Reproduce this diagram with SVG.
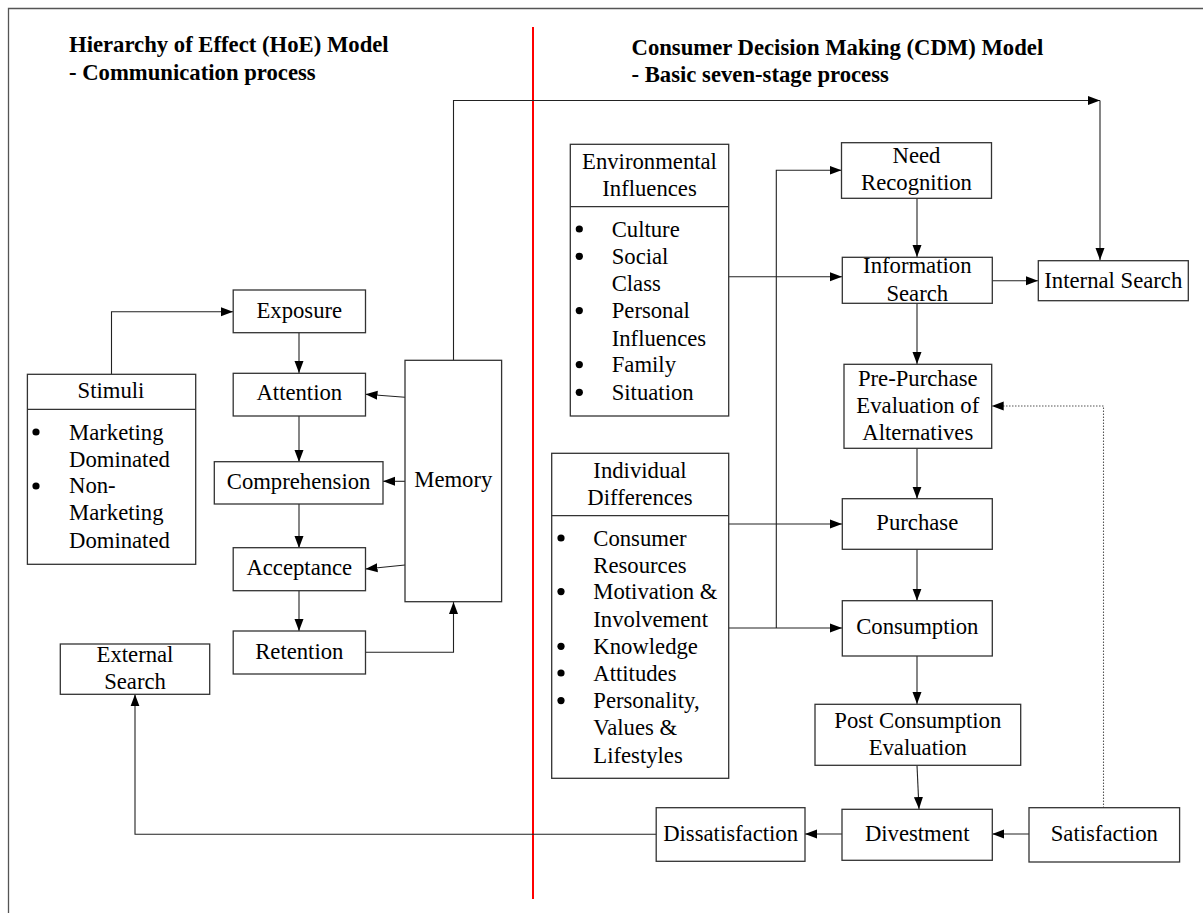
<svg xmlns="http://www.w3.org/2000/svg" width="1203" height="913" viewBox="0 0 1203 913">
  <style>
    .box { fill: #ffffff; stroke: #333333; stroke-width: 1.3; }
    .div { stroke: #333333; stroke-width: 1.3; fill: none; }
    .t { font-family: "Liberation Serif", "Times New Roman", serif; font-size: 22.7px; fill: #000000; }
    .c { text-anchor: middle; }
    .title { font-family: "Liberation Serif", "Times New Roman", serif; font-size: 22.7px; font-weight: bold; fill: #000000; }
    .link { fill: none; stroke: #222222; stroke-width: 1.1; marker-end: url(#arrow); }
    .plain { fill: none; stroke: #222222; stroke-width: 1.1; }
    .dotted { fill: none; stroke: #555555; stroke-width: 1.1; stroke-dasharray: 1.5 1.5; marker-end: url(#arrow); }
  </style>
  <defs>
    <marker id="arrow" markerUnits="userSpaceOnUse" markerWidth="13" markerHeight="10" refX="12" refY="5" orient="auto">
      <path d="M0,0.5 L12,5 L0,9.5 z" fill="#000000"/>
    </marker>
    <circle id="bullet" r="3.6" fill="#000000"/>
  </defs>

  <rect width="1203" height="913" fill="#ffffff"/>

  <!-- page frame -->
  <path d="M8.5,913 V8.5 H1203" fill="none" stroke="#555555" stroke-width="1.3"/>

  <!-- divider between the two models -->
  <line x1="533" y1="27" x2="533" y2="899" stroke="#ff0000" stroke-width="2"/>

  <!-- headings -->
  <g id="heading-hoe">
    <text class="title" x="69" y="52">Hierarchy of Effect (HoE) Model</text>
    <text class="title" x="69" y="80">- Communication process</text>
  </g>
  <g id="heading-cdm">
    <text class="title" x="631.5" y="54.5">Consumer Decision Making (CDM) Model</text>
    <text class="title" x="631.5" y="81.5">- Basic seven-stage process</text>
  </g>

  <!-- connectors -->
  <g id="connectors">
    <path class="link" d="M111.5,374 V311.7 H233"/>
    <path class="link" d="M299,333 V373"/>
    <path class="link" d="M299,416 V462"/>
    <path class="link" d="M299,504 V548"/>
    <path class="link" d="M299,591 V631"/>
    <path class="link" d="M365.5,652.3 H453.5 V602"/>
    <path class="link" d="M405,397.3 L365.5,394.3"/>
    <path class="link" d="M405,481.3 H383"/>
    <path class="link" d="M405,565 L365.5,569"/>
    <path class="link" d="M453.5,360 V100.5 H1100"/>
    <path class="link" d="M1100,100.5 V260"/>
    <path class="link" d="M728.7,276.7 H842"/>
    <path class="link" d="M917,198.3 V257"/>
    <path class="link" d="M992,280.7 H1038"/>
    <path class="link" d="M917,303.3 V364"/>
    <path class="link" d="M728.7,524 H842"/>
    <path class="link" d="M728.7,628 H842"/>
    <path class="link" d="M776.3,628 V170.3 H841.5"/>
    <path class="link" d="M917,448.3 V498.7"/>
    <path class="link" d="M917,549.3 V600.7"/>
    <path class="link" d="M917,656 V704"/>
    <path class="link" d="M917,765.3 L919,809"/>
    <path class="link" d="M1029,834 H992.3"/>
    <path class="link" d="M842,834 H805"/>
    <path class="link" d="M656,834.3 H135 V694.3"/>
    <path class="dotted" d="M1103.5,808 V406 H991.7"/>
  </g>

  <!-- HoE model -->
  <g id="stimuli">
    <rect class="box" x="27.4" y="374.3" width="168.3" height="190"/>
    <line class="div" x1="27.4" y1="409.3" x2="195.7" y2="409.3"/>
    <text class="t c" x="111" y="398.3">Stimuli</text>
    <use href="#bullet" x="36" y="432"/>
    <text class="t" x="69" y="440">Marketing</text>
    <text class="t" x="69" y="466.7">Dominated</text>
    <use href="#bullet" x="36" y="486"/>
    <text class="t" x="69" y="493.3">Non-</text>
    <text class="t" x="69" y="520">Marketing</text>
    <text class="t" x="69" y="547.7">Dominated</text>
  </g>
  <g id="exposure">
    <rect class="box" x="233.2" y="290" width="132.3" height="42.7"/>
    <text class="t c" x="299.3" y="317.5">Exposure</text>
  </g>
  <g id="attention">
    <rect class="box" x="233.2" y="373.3" width="132.3" height="42.7"/>
    <text class="t c" x="299.3" y="400">Attention</text>
  </g>
  <g id="comprehension">
    <rect class="box" x="214.3" y="461.7" width="168.7" height="42.3"/>
    <text class="t c" x="298.6" y="489.3">Comprehension</text>
  </g>
  <g id="acceptance">
    <rect class="box" x="233.2" y="547.7" width="132.3" height="43"/>
    <text class="t c" x="299.3" y="575">Acceptance</text>
  </g>
  <g id="retention">
    <rect class="box" x="233.2" y="631" width="132.3" height="43"/>
    <text class="t c" x="299.3" y="659.3">Retention</text>
  </g>
  <g id="memory">
    <rect class="box" x="405" y="360.3" width="96.6" height="241.4"/>
    <text class="t c" x="453.3" y="487.3">Memory</text>
  </g>
  <g id="external-search">
    <rect class="box" x="60.3" y="644" width="149.4" height="50.3"/>
    <text class="t c" x="135" y="661.7">External</text>
    <text class="t c" x="135" y="689.3">Search</text>
  </g>

  <!-- CDM model -->
  <g id="environmental-influences">
    <rect class="box" x="570.3" y="144.3" width="158.4" height="271.7"/>
    <line class="div" x1="570.3" y1="206.7" x2="728.7" y2="206.7"/>
    <text class="t c" x="649.5" y="169">Environmental</text>
    <text class="t c" x="649.5" y="195.7">Influences</text>
    <use href="#bullet" x="579.3" y="229"/>
    <text class="t" x="611.7" y="236.7">Culture</text>
    <use href="#bullet" x="579.3" y="256.3"/>
    <text class="t" x="611.7" y="264">Social</text>
    <text class="t" x="611.7" y="290.7">Class</text>
    <use href="#bullet" x="579.3" y="310.6"/>
    <text class="t" x="611.7" y="318.3">Personal</text>
    <text class="t" x="611.7" y="345.7">Influences</text>
    <use href="#bullet" x="579.3" y="364.6"/>
    <text class="t" x="611.7" y="372.3">Family</text>
    <use href="#bullet" x="579.3" y="392.3"/>
    <text class="t" x="611.7" y="400">Situation</text>
  </g>
  <g id="individual-differences">
    <rect class="box" x="551.7" y="453.3" width="177" height="325"/>
    <line class="div" x1="551.7" y1="515.7" x2="728.7" y2="515.7"/>
    <text class="t c" x="640" y="478.3">Individual</text>
    <text class="t c" x="640" y="505">Differences</text>
    <use href="#bullet" x="561" y="538"/>
    <text class="t" x="593.3" y="545.7">Consumer</text>
    <text class="t" x="593.3" y="572.7">Resources</text>
    <use href="#bullet" x="561" y="591.6"/>
    <text class="t" x="593.3" y="599.3">Motivation &amp;</text>
    <text class="t" x="593.3" y="627.3">Involvement</text>
    <use href="#bullet" x="561" y="646.3"/>
    <text class="t" x="593.3" y="654">Knowledge</text>
    <use href="#bullet" x="561" y="673"/>
    <text class="t" x="593.3" y="680.7">Attitudes</text>
    <use href="#bullet" x="561" y="700.6"/>
    <text class="t" x="593.3" y="708.3">Personality,</text>
    <text class="t" x="593.3" y="735">Values &amp;</text>
    <text class="t" x="593.3" y="762.7">Lifestyles</text>
  </g>
  <g id="need-recognition">
    <rect class="box" x="841.5" y="142.7" width="150" height="55.6"/>
    <text class="t c" x="916.5" y="163.3">Need</text>
    <text class="t c" x="916.5" y="190">Recognition</text>
  </g>
  <g id="information-search">
    <rect class="box" x="842.3" y="257.3" width="150" height="46"/>
    <text class="t c" x="917.3" y="273.3">Information</text>
    <text class="t c" x="917.3" y="300.7">Search</text>
  </g>
  <g id="internal-search">
    <rect class="box" x="1038.3" y="260.7" width="150" height="40"/>
    <text class="t c" x="1113.3" y="288.3">Internal Search</text>
  </g>
  <g id="pre-purchase-evaluation">
    <rect class="box" x="844" y="364.3" width="147.7" height="84"/>
    <text class="t c" x="917.8" y="386">Pre-Purchase</text>
    <text class="t c" x="917.8" y="412.7">Evaluation of</text>
    <text class="t c" x="917.8" y="439.5">Alternatives</text>
  </g>
  <g id="purchase">
    <rect class="box" x="842.3" y="498.7" width="150" height="50.6"/>
    <text class="t c" x="917.3" y="530">Purchase</text>
  </g>
  <g id="consumption">
    <rect class="box" x="842.3" y="600.7" width="150" height="55.3"/>
    <text class="t c" x="917.3" y="634">Consumption</text>
  </g>
  <g id="post-consumption-evaluation">
    <rect class="box" x="815" y="704.3" width="205.7" height="61"/>
    <text class="t c" x="917.8" y="728.3">Post Consumption</text>
    <text class="t c" x="917.8" y="755">Evaluation</text>
  </g>
  <g id="dissatisfaction">
    <rect class="box" x="656.2" y="807.7" width="148.8" height="53.6"/>
    <text class="t c" x="730.6" y="840.5">Dissatisfaction</text>
  </g>
  <g id="divestment">
    <rect class="box" x="842" y="809.3" width="150.3" height="51"/>
    <text class="t c" x="917.2" y="840.5">Divestment</text>
  </g>
  <g id="satisfaction">
    <rect class="box" x="1029" y="807.7" width="150.6" height="54.3"/>
    <text class="t c" x="1104.3" y="840.5">Satisfaction</text>
  </g>
</svg>
